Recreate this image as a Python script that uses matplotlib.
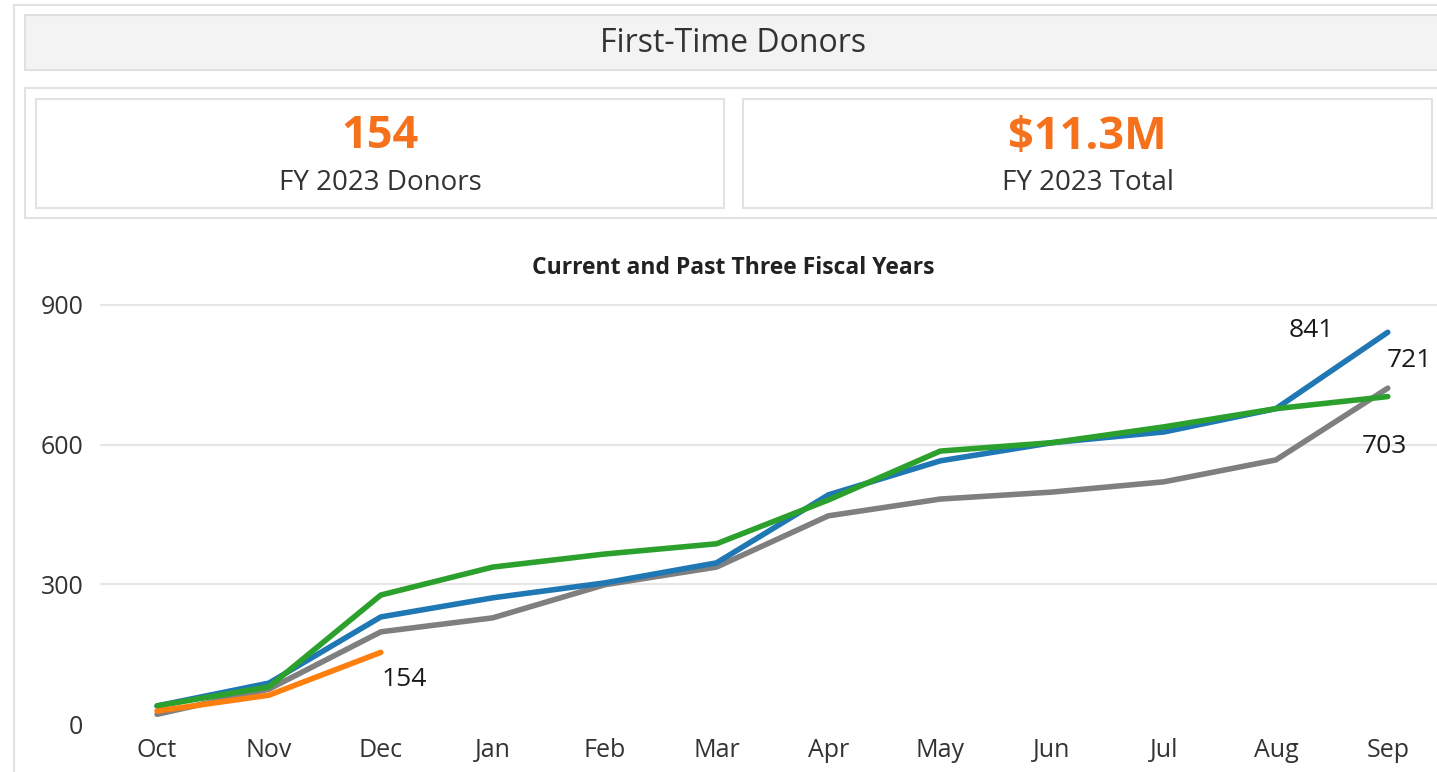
import matplotlib.pyplot as plt
from matplotlib.patches import Rectangle

plt.rcParams['font.family'] = ['Open Sans', 'DejaVu Sans']

months = ['Oct', 'Nov', 'Dec', 'Jan', 'Feb', 'Mar', 'Apr', 'May', 'Jun', 'Jul', 'Aug', 'Sep']

# cumulative first-time donors by fiscal year
fy_gray = [21, 75, 198, 228, 299, 337, 447, 483, 498, 520, 567, 721]
fy_blue = [39, 88, 230, 271, 303, 346, 492, 565, 604, 627, 677, 841]
fy_green = [39, 80, 277, 337, 365, 387, 481, 586, 604, 638, 677, 703]
fy_2023 = [28, 62, 154]

kpi_values = ['154', '$11.3M']
kpi_labels = ['FY 2023 Donors', 'FY 2023 Total']

W, H = 1437, 772
fig = plt.figure(figsize=(W / 100, H / 100), dpi=100)
fig.patch.set_facecolor('white')


def px_rect(x0, y0, x1, y1, fc='white', ec='#e2e2e2', lw=1.5):
    fig.add_artist(Rectangle((x0 / W, 1 - y1 / H), (x1 - x0) / W, (y1 - y0) / H,
                             transform=fig.transFigure, facecolor=fc, edgecolor=ec, linewidth=lw))


# outer dashboard border
fig.add_artist(plt.Line2D([14 / W, 14 / W], [0, 1 - 5 / H], transform=fig.transFigure, color='#e2e2e2', lw=1.5))
fig.add_artist(plt.Line2D([14 / W, 1], [1 - 5 / H, 1 - 5 / H], transform=fig.transFigure, color='#e2e2e2', lw=1.5))

# title bar
px_rect(25, 15, 1445, 70, fc='#f3f3f3', ec='#e0e0e0')
fig.text(733 / W, 1 - 44 / H, 'First-Time Donors', ha='center', va='center', fontsize=23, color='#333333')

# KPI cards
px_rect(25, 88, 1445, 218)
card_x = [(36, 724), (743, 1432)]
for (x0, x1), val, lab in zip(card_x, kpi_values, kpi_labels):
    px_rect(x0, 99, x1, 208)
    cx = (x0 + x1) / 2 / W
    fig.text(cx, 1 - 137 / H, val, ha='center', va='center', fontsize=32.5, fontweight='bold', color='#f5711c')
    fig.text(cx, 1 - 183 / H, lab, ha='center', va='center', fontsize=20, color='#333333')

fig.text(733 / W, 1 - 268 / H, 'Current and Past Three Fiscal Years', ha='center', va='center',
         fontsize=16.5, fontweight='bold', color='#222222')

# line chart
ax = fig.add_axes([100 / W, 1 - 732 / H, 1337 / W, 437 / H])
x = list(range(len(months)))
ax.plot(x, fy_gray, color='#7f7f7f', lw=4, solid_capstyle='round', zorder=3)
ax.plot(x, fy_blue, color='#1f77b4', lw=4, solid_capstyle='round', zorder=4)
ax.plot(x, fy_green, color='#2ca02c', lw=4, solid_capstyle='round', zorder=5)
ax.plot(x[:len(fy_2023)], fy_2023, color='#ff7f0e', lw=4, solid_capstyle='round', zorder=6)

ax.set_xlim(-0.51, 11.44)
ax.set_ylim(-17, 921)
ax.set_xticks(x, months)
ax.set_yticks([0, 300, 600, 900])
ax.tick_params(length=0, labelsize=18, colors='#333333')
ax.tick_params(axis='y', pad=12)
ax.tick_params(axis='x', pad=4)
for s in ax.spines.values():
    s.set_visible(False)
for v in [300, 600, 900]:
    ax.axhline(v, color='#e6e6e6', lw=1.5, zorder=1)

lab_style = dict(fontsize=19, color='#1a1a1a', va='center')
ax.annotate(str(fy_blue[-1]), (11, fy_blue[-1]), xytext=(-99, 2), textcoords='offset pixels', ha='left', **lab_style)
ax.annotate(str(fy_gray[-1]), (11, fy_gray[-1]), xytext=(-1, 28), textcoords='offset pixels', ha='left', **lab_style)
ax.annotate(str(fy_green[-1]), (11, fy_green[-1]), xytext=(-26, -50), textcoords='offset pixels', ha='left', **lab_style)
ax.annotate(str(fy_2023[-1]), (2, fy_2023[-1]), xytext=(1, -27), textcoords='offset pixels', ha='left', **lab_style)

fig.savefig('out.png', dpi=100, facecolor='white')
